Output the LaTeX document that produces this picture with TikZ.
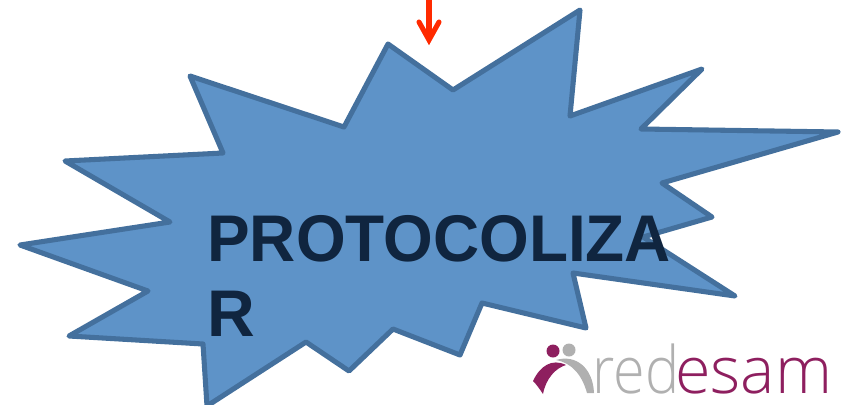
\documentclass[tikz,border=0pt]{standalone}
\usepackage{fontspec}
\setmainfont{Liberation Sans}
\newfontfamily\logofont{Open Sans Light}
\definecolor{starfill}{HTML}{5E93C8}
\definecolor{starline}{HTML}{44709D}
\definecolor{txtdark}{HTML}{10253F}
\definecolor{arrowred}{HTML}{FF2A00}
\definecolor{logopurple}{HTML}{8E1F5F}
\definecolor{logogrey}{HTML}{B0B0B0}
\tikzset{
  px/.style={x=0.75pt,y=-0.75pt},
  burst/.style={draw=starline,fill=starfill,line width=3.8pt,line join=round},
  bigtext/.style={anchor=base west,inner sep=0pt,font=\fontsize{49.5}{50}\selectfont\bfseries,text=txtdark},
  logotext/.style={anchor=base west,inner sep=0pt,font=\logofont\fontsize{49}{49}\selectfont}
}
\begin{document}
\begin{tikzpicture}[px]
\useasboundingbox (0,0) rectangle (846,404);
\begin{scope}
\clip (0,0) rectangle (846,404);
\draw[burst] (388,44) -- (453,90) -- (580,10) -- (570,116) -- (702,69) -- (641,129) -- (838,132) -- (662,183) -- (712,217) -- (643,237) -- (735,296) -- (573,273) -- (586,328) -- (482,303) -- (460,355) -- (393,329) -- (349,371) -- (306,342) -- (207,406) -- (203,344) -- (69,336) -- (148,291) -- (20,245) -- (170,222) -- (65,161) -- (223,153) -- (190,76) -- (344,127) -- cycle;
\end{scope}
\node[bigtext] (l1) at (207,261) {\scalebox{.968}[1]{PROTOCOLIZA}};
\node[bigtext] (l2) at (207,336) {R};
\coordinate (at) at (429,0);
\coordinate (ah) at (429,40);
\draw[arrowred,line width=3.8pt,line cap=round,line join=round] (at) -- (429,36);
\draw[arrowred,line width=3.8pt,line cap=round,line join=miter] (419,22) -- (ah) -- (439,22);
% logo
\fill[logopurple] (553,351) circle (6.5);
\fill[logogrey] (569,350) circle (6.5);
\fill[logogrey] (587,393) .. controls (582,375) and (572,363) .. (556,360) .. controls (576,354) and (593,368) .. (594,393) -- cycle;
\fill[logopurple] (533,381) .. controls (540,366) and (552,358) .. (566,365) .. controls (556,368) and (546,378) .. (543,394) .. controls (539,388) and (536,384) .. (533,381) -- cycle;
\node[logotext,text=logogrey] (lg1) at (592,393) {\scalebox{.88}[1]{red}};
\node[logotext,text=logopurple] (lg2) at (675,393) {\scalebox{.99}[1]{esam}};
\end{tikzpicture}
\end{document}
